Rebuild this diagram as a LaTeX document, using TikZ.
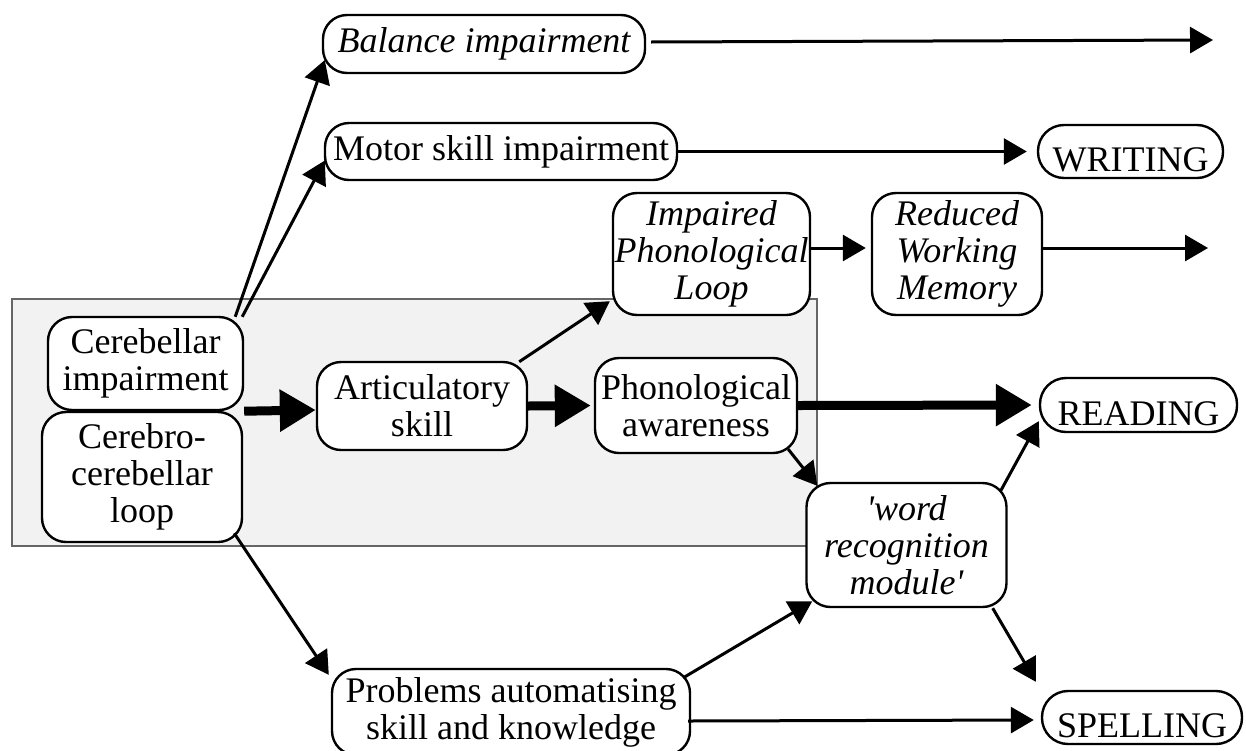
\documentclass[tikz,border=0pt]{standalone}
\usepackage{fontspec}
\setmainfont{Liberation Serif}
\usetikzlibrary{arrows.meta,calc}
\begin{document}
\begin{tikzpicture}[x=1pt,y=-1pt,
  box/.style={draw, line width=2.4pt, rounded corners=24pt, fill=white,
    inner sep=0pt, align=center, font=\fontsize{36}{37}\selectfont},
  ital/.style={font=\fontsize{36}{37}\selectfont\itshape},
  pill/.style={box, rounded corners=26pt, text height=40pt, text depth=0pt},
  thin/.style={line width=3pt, -{Triangle[length=23pt,width=26pt]}},
  heavy/.style={line width=9pt, -{Triangle[length=36pt,width=40pt]}},
]
\useasboundingbox (0,0) rectangle (1246,750);
\fill[white] (0,0) rectangle (1246,750);

% shaded frame round the cerebellar part of the model
\draw[line width=2pt, draw=black!60, fill=black!5] (12,299) rectangle (817,546);

% boxes
\node[box, ital, minimum width=322pt, minimum height=58pt] (bal) at (484,44) {Balance impairment};
\node[box, minimum width=352pt, minimum height=57pt] (mot) at (501,151.5) {Motor skill impairment};
\node[pill, minimum width=185pt, minimum height=53pt] (wri) at (1130.5,151.5) {WRITING};
\node[box, ital, minimum width=197pt, minimum height=122pt] (ipl) at (711.5,254) {Impaired\\Phonological\\Loop};
\node[box, ital, minimum width=170pt, minimum height=122pt] (rwm) at (957,254) {Reduced\\Working\\Memory};
\node[box, minimum width=195pt, minimum height=93pt] (cer) at (145.5,363.5) {Cerebellar\\impairment};
\node[box, minimum width=200pt, minimum height=130pt] (ccl) at (142,477) {Cerebro-\\cerebellar\\loop};
\node[box, minimum width=210pt, minimum height=88pt] (art) at (422,406) {Articulatory\\skill};
\node[box, minimum width=202pt, minimum height=95pt] (pha) at (696,405.5) {Phonological\\awareness};
\node[pill, minimum width=197pt, minimum height=54pt] (rea) at (1138.5,405) {READING};
\node[box, ital, minimum width=200pt, minimum height=124pt] (wrm) at (906.5,545) {\textquotesingle word\\recognition\\module\textquotesingle};
\node[box, minimum width=358pt, minimum height=86pt] (pro) at (511,712) {Problems automatising\\skill and knowledge};
\node[pill, minimum width=200pt, minimum height=53pt] (spe) at (1142,717.5) {SPELLING};

% free ends of the open arrows
\coordinate (balout) at (1213,40);
\coordinate (rwmout) at (1208,248);

% connectors
\draw[thin] ($(cer.north east)+(-9,1)$) -- ($(bal.west)+(3,16)$);
\draw[thin] ($(cer.north east)+(-2,1)$) -- ($(mot.west)+(1,9)$);
\draw[thin] ($(bal.east)+(5,-2)$) -- (balout);
\draw[thin, shorten >=10pt] (mot.east) -- (wri.west);
\draw[thin] ($(ipl.east)+(0,-6)$) -- ($(rwm.west)+(-5,-6)$);
\draw[thin] ($(rwm.east)+(0,-6)$) -- (rwmout);
\draw[heavy] (cer.south east) -- ($(art.west)+(0,4)$);
\draw[heavy, shorten >=3pt] (art.east) -- (pha.west);
\draw[thin] ($(art.north east)+(-9,1)$) -- ($(ipl.south west)+(-2,-15)$);
\draw[heavy, shorten >=7pt] (pha.east) -- (rea.west);
\draw[thin] ($(pha.south east)+(-10,-5)$) -- ($(wrm.north west)+(12,4)$);
\draw[thin] ($(wrm.north east)+(-7,9)$) -- ($(rea.south west)+(0,-12)$);
\draw[thin] ($(ccl.south east)+(-9,-10)$) -- ($(pro.north west)+(-2,7)$);
\draw[thin] ($(pro.north east)+(-8,10)$) -- ($(wrm.south west)+(7,-7)$);
\draw[thin] ($(wrm.south east)+(-15,0)$) -- ($(spe.north west)+(-5,-8)$);
\draw[thin] ($(pro.east)+(-3,9)$) -- ($(spe.west)+(-7,2.5)$);
\end{tikzpicture}
\end{document}
